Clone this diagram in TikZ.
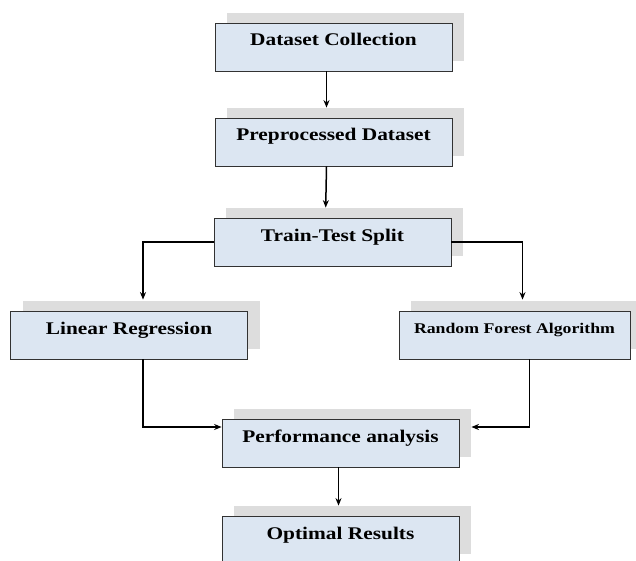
\documentclass[tikz,border=0pt]{standalone}
\usepackage{fontspec}
\newfontfamily\boxfont{Liberation Serif}[FakeStretch=1.2]
\usetikzlibrary{arrows.meta, positioning, shadows}

\definecolor{boxblue}{RGB}{220,230,242}
\definecolor{shadowgray}{RGB}{221,221,221}
\definecolor{boxline}{RGB}{50,50,50}

\tikzset{
  stage/.style={draw=boxline, line width=0.8pt, fill=boxblue,
    minimum width=237pt, inner xsep=0pt, inner ysep=10pt,
    text height=13pt, text depth=15pt,
    font=\boxfont\bfseries\fontsize{17.8}{20}\selectfont,
    drop shadow={shadow xshift=12pt, shadow yshift=10pt,
      fill=shadowgray, opacity=1}},
  flow/.style={-{Stealth[length=7.5pt,width=6pt]}, line width=1.5pt}
}

\begin{document}
\begin{tikzpicture}[x=1pt,y=-1pt]
   \useasboundingbox (0,0) rectangle (636,561);

   % Nodes
      \node[stage]  (dc)  at (333.5,47)   {Dataset Collection};
      \node[stage]  (pd)  at (333.5,142)  {Preprocessed Dataset};
      \node[stage]  (tts) at (332.5,242)  {Train-Test Split};
      \node[stage]  (lr)  at (129,335)    {Linear Regression};
      \node[stage, minimum width=231pt, inner ysep=11pt, text height=11pt,
            font=\boxfont\bfseries\fontsize{14.8}{17}\selectfont]
                    (rf)  at (514.5,335)  {Random Forest Algorithm};
      \node[stage]  (pa)  at (340.5,443)  {Performance analysis};
      \node[stage]  (or)  at (340.5,540)  {Optimal Results};

   % Paths
      \draw[flow, shorten >=10pt] ([xshift=-7pt]dc.south) -- ([xshift=-7pt]pd.north);
      \draw[flow, shorten >=10pt] ([xshift=-7pt]pd.south) -- ([xshift=-7pt]tts.north);
      \draw[flow, shorten >=11pt] (tts.west) -| ([xshift=14pt]lr.north);
      \draw[flow, shorten >=11pt] (tts.east) -| ([xshift=8pt]rf.north);
      \draw[flow] ([xshift=14pt]lr.south) |- ([yshift=16pt]pa.west);
      \draw[flow, shorten >=12pt] ([xshift=15pt]rf.south) |- ([yshift=16pt]pa.east);
      \draw[flow, shorten >=10pt] ([xshift=-2pt]pa.south) -- ([xshift=-2pt]or.north);
\end{tikzpicture}
\end{document}
